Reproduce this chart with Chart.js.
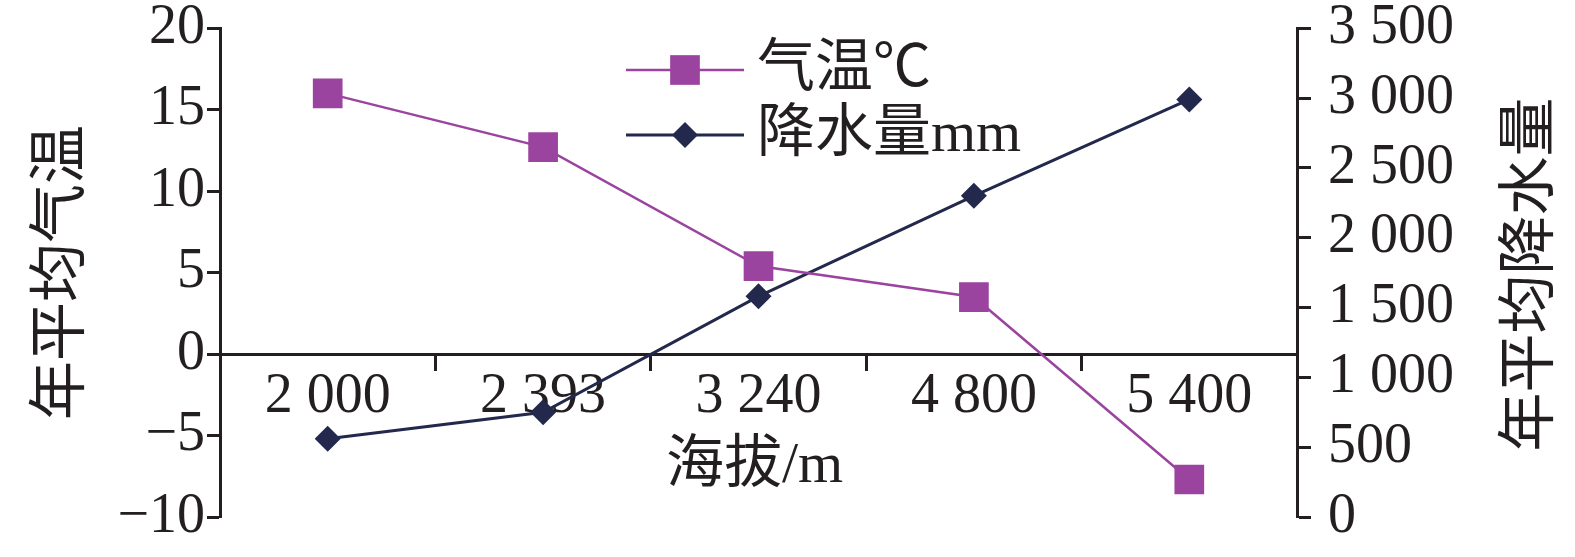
<!DOCTYPE html>
<html>
<head>
<meta charset="utf-8">
<script src="https://cdn.jsdelivr.net/npm/chart.js@4.4.1/dist/chart.umd.min.js"></script>
<style>
  html, body { margin: 0; padding: 0; background: #fff; }
</style>
</head>
<body>
<canvas id="chart" width="1575" height="557"></canvas>
<script>
// altitude categories (m)
var altitudes = ['2 000', '2 393', '3 240', '4 800', '5 400'];
// annual mean temperature, left axis
var temperature = [16.0, 12.7, 5.4, 3.5, -7.7];
// annual precipitation (mm), right axis
var precipitation = [560, 750, 1580, 2300, 2990];

var tempRange = { min: -10, max: 20, step: 5 };
var rainRange = { min: 0, max: 3500, step: 500 };

var seriesNames = ['气温℃', '降水量mm'];
var titles = { x: '海拔/m', left: '年平均气温', right: '年平均降水量' };

var INK = '#231f20';
var PURPLE = '#9b449f';
var NAVY = '#23284d';
var FONT = '"Liberation Serif", "Noto Sans CJK SC", serif';

function thousands(v) {
    if (v < 1000) return String(v);
    var rest = String(v % 1000);
    while (rest.length < 3) rest = '0' + rest;
    return Math.floor(v / 1000) + ' ' + rest;
}

// axis titles and legend drawn by hand (right title reads bottom to top)
var extras = {
    id: 'extras',
    afterDraw: function (chart) {
        var ctx = chart.ctx;
        var area = chart.chartArea;
        ctx.save();
        ctx.fillStyle = INK;
        ctx.textBaseline = 'middle';
        ctx.textAlign = 'center';
        ctx.font = '59px ' + FONT;

        ctx.save();
        ctx.translate(63, (area.top + area.bottom) / 2);
        ctx.rotate(-Math.PI / 2);
        ctx.fillText(titles.left, 0, 0);
        ctx.restore();

        ctx.save();
        ctx.translate(1532, (area.top + area.bottom) / 2 + 2);
        ctx.rotate(-Math.PI / 2);
        ctx.fillText(titles.right, 0, 0);
        ctx.restore();

        ctx.font = '58px ' + FONT;
        ctx.fillText(titles.x, (area.left + area.right) / 2 - 4, 467);

        // legend
        var rows = [70, 135];
        chart.data.datasets.forEach(function (ds, i) {
            var y = rows[i];
            ctx.strokeStyle = ds.borderColor;
            ctx.lineWidth = ds.borderWidth;
            ctx.beginPath();
            ctx.moveTo(626, y);
            ctx.lineTo(744, y);
            ctx.stroke();
            ctx.fillStyle = ds.backgroundColor;
            Chart.helpers.drawPoint(ctx, { pointStyle: ds.pointStyle, radius: ds.pointRadius, borderWidth: 0 }, 685, y);
            ctx.fillStyle = INK;
            ctx.textAlign = 'left';
            ctx.font = '58px ' + FONT;
            ctx.fillText(seriesNames[i], 757, y + 1);
        });
        ctx.restore();
    }
};

var ctx = document.getElementById('chart').getContext('2d');
new Chart(ctx, {
    type: 'line',
    data: {
        labels: altitudes,
        datasets: [{
            label: seriesNames[0],
            data: temperature,
            yAxisID: 'y',
            borderColor: PURPLE,
            backgroundColor: PURPLE,
            borderWidth: 2.5,
            pointStyle: 'rect',
            pointRadius: 21,
            pointBorderWidth: 0,
            tension: 0
        }, {
            label: seriesNames[1],
            data: precipitation,
            yAxisID: 'y1',
            borderColor: NAVY,
            backgroundColor: NAVY,
            borderWidth: 3,
            pointStyle: 'rectRot',
            pointRadius: 13,
            pointBorderWidth: 0,
            tension: 0
        }]
    },
    options: {
        responsive: false,
        animation: false,
        events: [],
        layout: { padding: { top: 28, bottom: 40, left: 0, right: 0 } },
        plugins: {
            legend: { display: false },
            tooltip: { enabled: false }
        },
        scales: {
            x: {
                axis: 'x',
                type: 'category',
                position: { y: 0 },
                offset: true,
                border: { color: INK, width: 3 },
                grid: { offset: true, drawOnChartArea: false, drawTicks: true, tickLength: 15, tickWidth: 3, tickColor: INK },
                ticks: { color: INK, padding: 0, autoSkip: false, maxRotation: 0, font: { family: FONT, size: 56, lineHeight: 1 } }
            },
            y: {
                position: 'left',
                min: tempRange.min,
                max: tempRange.max,
                afterFit: function (scale) { scale.width = 220; },
                border: { color: INK, width: 3 },
                grid: { drawOnChartArea: false, tickLength: 13, tickWidth: 3, tickColor: INK },
                ticks: {
                    stepSize: tempRange.step,
                    color: INK,
                    padding: 2,
                    font: { family: FONT, size: 56, lineHeight: 0.4 },
                    callback: function (v) { return String(v).replace('-', '\u2212'); }
                }
            },
            y1: {
                position: 'right',
                min: rainRange.min,
                max: rainRange.max,
                afterFit: function (scale) { scale.width = 278; },
                border: { color: INK, width: 3 },
                grid: { drawOnChartArea: false, tickLength: 14, tickWidth: 3, tickColor: INK },
                ticks: {
                    stepSize: rainRange.step,
                    color: INK,
                    padding: 17,
                    font: { family: FONT, size: 56, lineHeight: 0.4 },
                    callback: function (v) { return thousands(v); }
                }
            }
        }
    },
    plugins: [extras]
});
</script>
</body>
</html>
